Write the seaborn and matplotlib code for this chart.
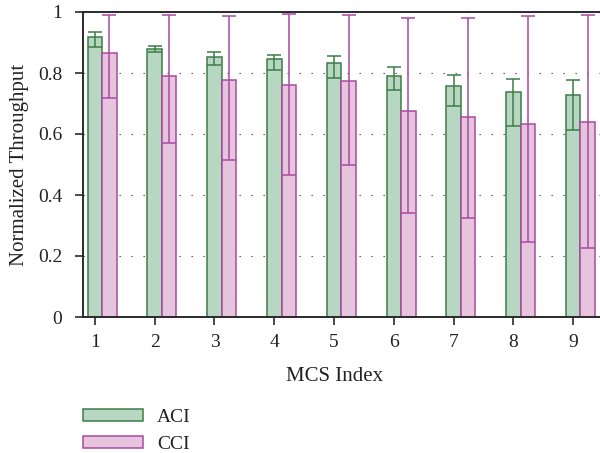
import matplotlib
matplotlib.use("Agg")
import matplotlib.pyplot as plt
import pandas as pd
import seaborn as sns

# MCS indices on the x axis
mcs_index = [1, 2, 3, 4, 5, 6, 7, 8, 9]

# ACI: mean normalized throughput and error-bar bounds
aci_mean = [0.918, 0.879, 0.853, 0.847, 0.833, 0.790, 0.759, 0.737, 0.727]
aci_low = [0.886, 0.868, 0.826, 0.811, 0.782, 0.745, 0.691, 0.626, 0.612]
aci_high = [0.933, 0.889, 0.869, 0.858, 0.856, 0.819, 0.794, 0.780, 0.777]

# CCI: mean normalized throughput and error-bar bounds
cci_mean = [0.866, 0.791, 0.777, 0.762, 0.773, 0.677, 0.656, 0.633, 0.639]
cci_low = [0.719, 0.572, 0.515, 0.467, 0.500, 0.340, 0.325, 0.246, 0.227]
cci_high = [0.991, 0.991, 0.987, 0.992, 0.990, 0.979, 0.979, 0.986, 0.991]

schemes = ["ACI", "CCI"]
fill_colors = {"ACI": "#b7d7c2", "CCI": "#e6c4dd"}
edge_colors = {"ACI": "#3d7c47", "CCI": "#a84aa0"}

y_ticks = [0, 0.2, 0.4, 0.6, 0.8, 1]
y_tick_labels = ["0", "0.2", "0.4", "0.6", "0.8", "1"]

sns.set_theme(style="ticks")
plt.rcParams["font.family"] = ["Liberation Serif", "DejaVu Serif"]
plt.rcParams["text.color"] = "#222222"

df = pd.DataFrame({
    "MCS": [str(m) for m in mcs_index] * 2,
    "Throughput": aci_mean + cci_mean,
    "Scheme": ["ACI"] * len(mcs_index) + ["CCI"] * len(mcs_index),
})

fig = plt.figure(figsize=(6.0, 4.53), dpi=100)
ax = fig.add_axes([83 / 600, 1 - 317 / 453, 517 / 600, 305 / 453])

sns.barplot(
    data=df, x="MCS", y="Throughput", hue="Scheme", hue_order=schemes,
    palette=fill_colors, saturation=1, width=0.485, errorbar=None,
    ax=ax, zorder=2,
)

bounds = {"ACI": (aci_mean, aci_low, aci_high), "CCI": (cci_mean, cci_low, cci_high)}
for name, container in zip(schemes, ax.containers):
    for patch in container:
        patch.set_edgecolor(edge_colors[name])
        patch.set_linewidth(1.1)
    means, lows, highs = bounds[name]
    xs = [p.get_x() + p.get_width() / 2 for p in container]
    ax.errorbar(
        xs, means,
        yerr=[[m - lo for m, lo in zip(means, lows)], [hi - m for m, hi in zip(means, highs)]],
        fmt="none", ecolor=edge_colors[name], elinewidth=1.1, capsize=5, capthick=1.1,
        zorder=3,
    )

if ax.get_legend() is not None:
    ax.get_legend().remove()

tick_pos = [p.get_x() + p.get_width() / 2 for p in ax.containers[0]]
ax.set_xticks(tick_pos)
ax.set_xticklabels([str(m) for m in mcs_index])
step = tick_pos[1] - tick_pos[0]
ax.set_xlim(tick_pos[0] - 0.2 * step, tick_pos[-1] + 0.45 * step)

ax.set_ylim(0, 1)
ax.set_yticks(y_ticks)
ax.set_yticklabels(y_tick_labels)

ax.yaxis.grid(True, linestyle=(0, (1.2, 9.6)), color="#444444", linewidth=0.8)
ax.set_axisbelow(True)

for side in ["top", "left", "bottom"]:
    ax.spines[side].set_color("#2a2a2a")
    ax.spines[side].set_linewidth(1.4)
ax.spines["right"].set_visible(False)

ax.tick_params(axis="both", direction="out", length=6, width=1.2, color="#2a2a2a",
               labelsize=14, labelcolor="#222222")
ax.tick_params(axis="x", pad=6)
ax.tick_params(axis="y", pad=9)

ax.set_xlabel("MCS Index", fontsize=15, color="#222222")
ax.set_ylabel("Normalized Throughput", fontsize=15, color="#222222")
ax.xaxis.set_label_coords(0.487, -0.163)
ax.yaxis.set_label_coords(-0.104, 0.5)

fig.legend(
    handles=ax.containers, labels=schemes,
    loc="upper left", bbox_to_anchor=(83 / 600, 1 - 409 / 453),
    bbox_transform=fig.transFigure, frameon=False, fontsize=14,
    handlelength=3.1, handleheight=0.57, handletextpad=0.7,
    labelspacing=0.5, borderpad=0, borderaxespad=0,
)

fig.savefig("out.png", dpi=100)
